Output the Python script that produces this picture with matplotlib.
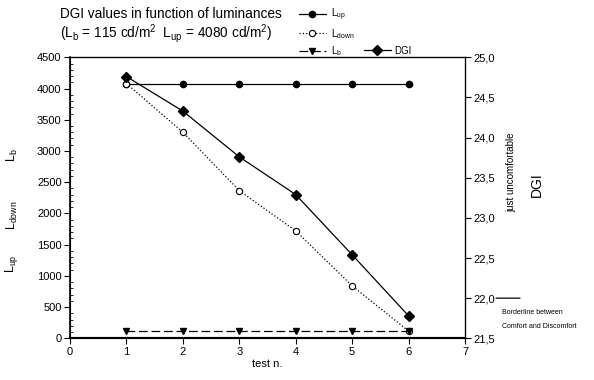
import numpy as np
import matplotlib
matplotlib.use("Agg")
import matplotlib.pyplot as plt
from matplotlib.ticker import MultipleLocator, FuncFormatter

plt.rcParams['font.family'] = ['Liberation Sans', 'DejaVu Sans']
plt.rcParams['mathtext.fontset'] = 'custom'
plt.rcParams['mathtext.rm'] = 'Liberation Sans'
plt.rcParams['mathtext.it'] = 'Liberation Sans'

# data
test_n = [1, 2, 3, 4, 5, 6]
l_up = [4080, 4080, 4080, 4080, 4080, 4080]
l_down = [4080, 3300, 2365, 1720, 840, 115]
l_b = [115, 115, 115, 115, 115, 115]
dgi = [24.76, 24.33, 23.76, 23.29, 22.54, 21.78]

fig = plt.figure(figsize=(5.94, 3.80), dpi=100)
ax = fig.add_axes([70/594, 1-338.3/380, 395/594, 281/380])
ax2 = ax.twinx()

ax.plot(test_n, l_up, '-', color='k', lw=0.9, marker='o', ms=4.5, label=r'L$\mathregular{_{up}}$')
ax.plot(test_n, l_down, ':', color='k', lw=0.9, marker='o', ms=4.5, mfc='white', mew=0.8,
        label=r'L$\mathregular{_{down}}$')
ax.plot(test_n, l_b, '--', color='k', lw=0.9, marker='v', ms=5, dashes=(7, 3),
        label=r'L$\mathregular{_b}$')
ax2.plot(test_n, dgi, '-', color='k', lw=0.9, marker='D', ms=5, label='DGI')

ax.set_xlim(0, 7)
ax.set_ylim(0, 4500)
ax2.set_ylim(21.5, 25.0)
ax.xaxis.set_major_locator(MultipleLocator(1))
ax.yaxis.set_major_locator(MultipleLocator(500))
ax.yaxis.set_minor_locator(MultipleLocator(100))
ax2.yaxis.set_major_locator(MultipleLocator(0.5))
ax2.yaxis.set_major_formatter(FuncFormatter(lambda v, p: f"{v:.1f}".replace('.', ',')))

ax.tick_params(axis='both', which='major', direction='out', length=4, width=0.8, labelsize=8, pad=2)
ax.tick_params(axis='y', which='minor', direction='in', length=2.5, width=0.6)
ax2.tick_params(axis='y', direction='out', length=4, width=0.8, labelsize=8, pad=2)
for s in ['left', 'right', 'top']:
    ax.spines[s].set_linewidth(0.9)
ax.spines['bottom'].set_linewidth(1.5)
ax.spines['left'].set_linewidth(1.2)
ax2.spines['bottom'].set_linewidth(1.5)

ax.set_xlabel('test n.', fontsize=8, labelpad=2)

# stacked left labels
fig.text(12/594, 1-155/380, r'L$\mathregular{_b}$', rotation=90, ha='center', va='center', fontsize=9)
fig.text(12/594, 1-215/380, r'L$\mathregular{_{down}}$', rotation=90, ha='center', va='center', fontsize=9)
fig.text(12/594, 1-264/380, r'L$\mathregular{_{up}}$', rotation=90, ha='center', va='center', fontsize=9)

# right labels
fig.text(511/594, 1-172/380, 'just uncomfortable', rotation=90, ha='center', va='center', fontsize=7)
fig.text(537/594, 1-185/380, 'DGI', rotation=90, ha='center', va='center', fontsize=10)
ax2.annotate('', xy=(520/594, 22.0), xytext=(496/594, 22.0),
             xycoords=('figure fraction', 'data'), textcoords=('figure fraction', 'data'),
             arrowprops=dict(arrowstyle='-', lw=0.9, color='k', shrinkA=0, shrinkB=0))
fig.text(502/594, 1-313/380, 'Borderline between', fontsize=5, va='center', ha='left')
fig.text(502/594, 1-327/380, 'Comfort and Discomfort', fontsize=5, va='center', ha='left')

# title
fig.text(60/594, 1-14/380, 'DGI values in function of luminances', fontsize=9.8, va='center', ha='left')
fig.text(60/594, 1-34/380,
         r'(L$\mathregular{_b}$ = 115 cd/m$\mathregular{^2}$  L$\mathregular{_{up}}$ = 4080 cd/m$\mathregular{^2}$)',
         fontsize=9.8, va='center', ha='left')

# legend
h1, lab1 = ax.get_legend_handles_labels()
h2, lab2 = ax2.get_legend_handles_labels()
leg1 = fig.legend(h1, lab1, loc='upper left', bbox_to_anchor=(292/594, 1-0/380), frameon=False,
                  fontsize=7, handlelength=2.8, labelspacing=0.36, handletextpad=0.5, borderpad=0.2)
leg2 = fig.legend(h2, lab2, loc='upper left', bbox_to_anchor=(357/594, 1-39/380), frameon=False,
                  fontsize=7, handlelength=2.8, handletextpad=0.3, borderpad=0.2)

fig.savefig('out.png', dpi=100)
